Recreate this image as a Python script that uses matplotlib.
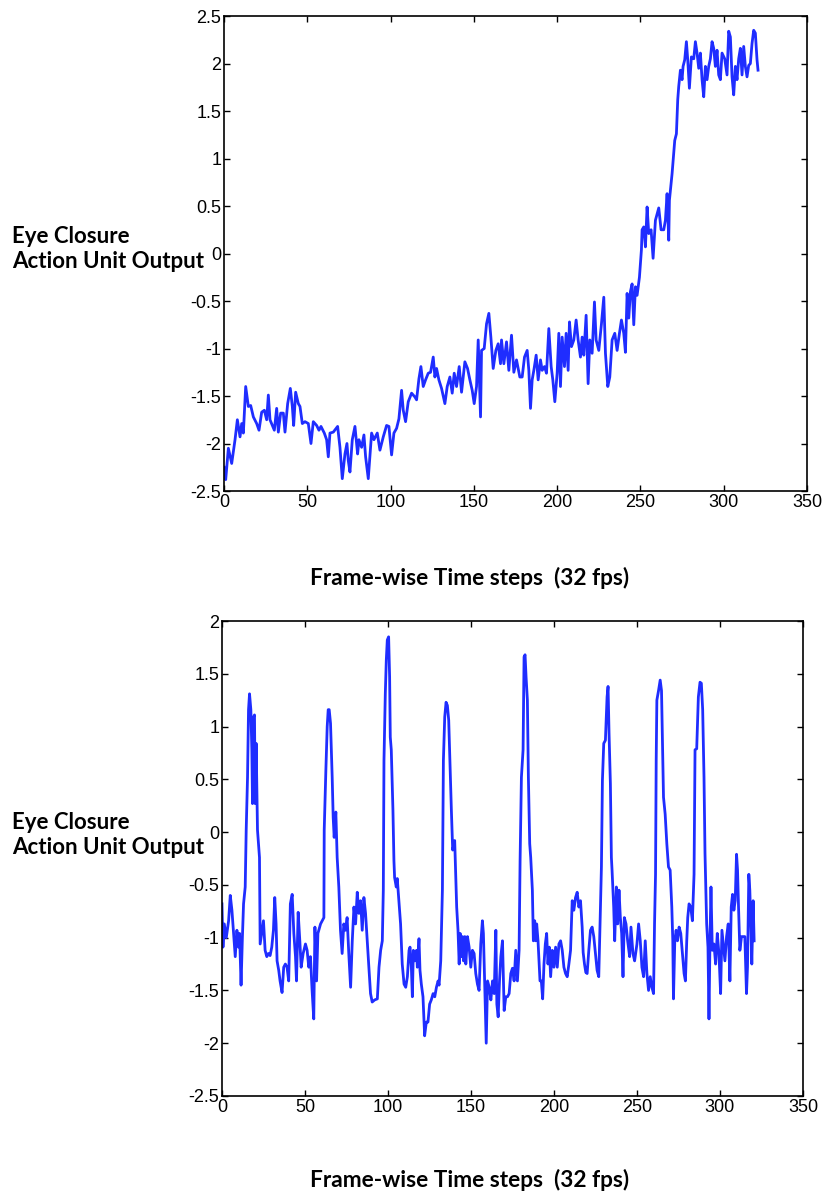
import matplotlib
matplotlib.use('Agg')
import matplotlib.pyplot as plt

# values (frame index, action unit output)
top_x = [0, 1, 2.6, 4.6, 6.6, 8, 9.6, 10.6, 11.6, 13, 14.6, 16, 17.6, 19.6, 21, 22.6, 24.2, 25.6, 26.6, 27.6,
         29, 30.2, 31.6, 32.6, 34, 35.6, 36.6, 38.2, 39.8, 41, 41.8, 43, 44.6, 45.6, 47, 48.6, 50.6, 52.2, 53.6, 55.6,
         57, 58.2, 60.2, 61.6, 62.6, 63.6, 65.6, 68.2, 69.6, 71, 72.6, 73.8, 74.6, 75.6, 77, 78.6, 80.2, 81, 82.6, 84,
         85, 86.6, 88.6, 90, 92, 93.6, 95.6, 97.6, 99, 100.6, 102, 103.6, 105, 106.6, 107.6, 109, 110.6, 112.6, 114.6, 115.6,
         117, 118.2, 119.6, 121, 122.6, 124, 125.6, 126.6, 127.6, 129, 130.6, 132.6, 134, 135.6, 137, 138.2, 139.6, 141.2, 142.6, 144.6,
         146.2, 147.6, 149, 150.2, 151.6, 152.6, 154, 154.6, 156.2, 157.6, 159, 160.2, 161.6, 163.2, 164.6, 166, 166.6, 168, 169.6, 171,
         172.6, 174, 175.6, 177.6, 179, 180.4, 182, 183, 184, 185, 186, 187.4, 188.6, 190, 191, 192.4, 193.6, 195, 196.4, 197.4,
         198.6, 200, 201, 202, 203, 204.4, 205.4, 206.6, 207.4, 208.6, 210, 211.4, 212.6, 214, 215, 216, 217.4, 218.6, 219.6, 221,
         222.4, 223.4, 225, 226.6, 228, 229, 230.4, 231.6, 233, 234.6, 236, 237.4, 238.6, 240, 241, 242, 243, 244, 245, 246,
         247, 248, 249.4, 250.6, 251, 252, 253, 254, 255, 256.4, 257.6, 259, 261, 262.4, 264, 265, 266, 267, 267.4, 269,
         270.6, 271.6, 272.4, 273, 274, 275, 275.6, 276.6, 277.6, 278.4, 279.4, 280.6, 282, 283, 284, 285, 286, 287, 288, 289,
         290, 291, 292, 293, 294, 295, 296, 297, 298, 299, 300.6, 302, 303, 304, 305, 306, 307, 308, 309, 310,
         311, 312, 313, 314, 315, 316, 317, 318, 319, 320, 320.6]
top_y = [-2.25, -2.38, -2.05, -2.21, -1.96, -1.75, -1.93, -1.79, -1.89, -1.40, -1.61, -1.60, -1.72, -1.79, -1.86, -1.67, -1.65, -1.75, -1.49, -1.75,
         -1.81, -1.86, -1.63, -1.88, -1.68, -1.68, -1.88, -1.58, -1.42, -1.61, -1.81, -1.46, -1.58, -1.61, -1.79, -1.77, -1.79, -2.00, -1.77, -1.81,
         -1.86, -1.82, -1.89, -1.96, -2.14, -1.89, -1.88, -1.82, -2.04, -2.37, -2.11, -2.00, -2.18, -2.30, -1.96, -1.82, -2.11, -1.96, -2.04, -1.91,
         -2.14, -2.37, -1.89, -1.96, -1.89, -2.07, -1.93, -1.81, -1.82, -2.12, -1.89, -1.84, -1.74, -1.44, -1.65, -1.77, -1.56, -1.47, -1.51, -1.54,
         -1.32, -1.19, -1.40, -1.33, -1.26, -1.25, -1.09, -1.30, -1.21, -1.33, -1.42, -1.58, -1.40, -1.30, -1.47, -1.26, -1.40, -1.19, -1.46, -1.14,
         -1.21, -1.33, -1.44, -1.58, -1.40, -0.91, -1.72, -1.02, -1.00, -0.74, -0.63, -0.88, -1.21, -1.02, -0.95, -1.16, -0.91, -1.16, -0.93, -1.23,
         -0.86, -1.25, -1.12, -1.30, -1.30, -1.09, -1.02, -1.23, -1.63, -1.33, -1.23, -1.07, -1.33, -1.12, -1.23, -1.19, -1.26, -0.79, -1.19, -1.33,
         -1.56, -1.26, -0.84, -1.40, -0.88, -1.19, -0.84, -1.23, -0.72, -0.98, -0.91, -0.70, -0.91, -1.09, -0.88, -1.07, -0.65, -1.37, -0.91, -1.05,
         -0.51, -0.91, -1.02, -0.74, -0.46, -1.05, -1.40, -1.30, -0.91, -0.84, -1.02, -0.84, -0.70, -0.84, -1.04, -0.42, -0.68, -0.40, -0.32, -0.75,
         -0.35, -0.44, -0.25, 0.04, 0.25, 0.28, 0.07, 0.49, 0.21, 0.25, -0.05, 0.35, 0.48, 0.25, 0.25, 0.35, 0.63, 0.14, 0.56, 0.84,
         1.19, 1.26, 1.62, 1.76, 1.93, 1.83, 1.97, 2.04, 2.23, 2.04, 1.74, 2.07, 2.05, 2.23, 2.11, 1.95, 2.11, 1.83, 1.65, 1.97,
         1.83, 1.97, 2.05, 2.23, 2.16, 1.97, 2.14, 1.88, 1.83, 2.11, 2.05, 1.88, 2.34, 2.28, 1.86, 1.67, 1.97, 1.83, 2.05, 2.16,
         1.88, 2.18, 1.97, 1.86, 1.98, 2.00, 2.21, 2.35, 2.32, 2.04, 1.93]

bot_x = [0, 0.6, 1.4, 2.6, 4, 5, 6, 7, 8, 9, 10, 10.6, 11.5, 12.3, 13, 14, 14.6, 15.4, 16, 16.6,
         17.4, 18, 18.4, 19, 19.6, 20, 20.6, 21.4, 22.6, 23, 25, 26, 27, 28, 29, 30, 31, 31.8, 32.6, 33.2,
         34.2, 35, 36.2, 37.2, 38.2, 39.2, 40.2, 41.2, 42.3, 43.3, 44.3, 44.9, 45.9, 46.9, 47.7, 48.9, 50.3, 51.3, 52.3, 53.3,
         54.3, 55.3, 56, 57, 57.8, 59.4, 60.4, 61.4, 61.6, 62.6, 63.4, 64, 64.6, 65.4, 66.4, 67, 67.6, 68.6, 69.4, 70.4,
         71.4, 72.4, 73.4, 74.4, 75.4, 76.4, 77.5, 78.5, 79.5, 80.5, 81.5, 82.5, 83.5, 84.5, 85.5, 86.5, 87.5, 88.5, 89.5, 90.5,
         92, 93.6, 94.6, 95.6, 96.6, 97.2, 97.6, 98.4, 99, 99.6, 100.4, 101, 101.4, 102, 103, 103.6, 104, 105, 105.6, 106.6,
         107.6, 108.6, 109.7, 110.7, 111.7, 112.7, 113.3, 114.1, 114.7, 115.3, 116.2, 117.2, 117.7, 118.7, 119.3, 120.1, 121.1, 122.1, 123.1, 124.1,
         125.1, 126.1, 127.2, 128.2, 129.2, 130.2, 130.8, 131.8, 132.8, 133.4, 134.2, 135, 135.8, 136.6, 137.4, 138.2, 139, 140.2, 141.4, 142.2,
         142.9, 143.5, 144.3, 144.9, 145.5, 146.3, 146.9, 147.9, 148.9, 149.9, 150.9, 151.9, 152.9, 153.9, 154.9, 155.9, 156.9, 157.5, 158.4, 159.2,
         160, 161, 162, 163, 164, 165, 165.6, 166.4, 167.2, 168, 169, 170, 171, 172, 173, 174, 175, 176, 177, 178,
         179, 179.6, 180.4, 181.4, 182, 182.6, 183.2, 184, 184.6, 185.4, 186, 187, 187.6, 188.4, 189, 189.6, 190.4, 191.6, 192.4, 193.2,
         194, 194.8, 195.6, 196.4, 197.2, 198, 199, 200, 201, 202, 203, 204, 205, 206, 207, 208, 209, 210, 211, 212,
         213, 214, 215, 216, 217, 217.6, 218.4, 219.2, 220, 221, 222, 223, 224, 225, 226, 227, 228, 228.6, 229.2, 230,
         231, 232, 232.6, 233.2, 234, 234.6, 235, 236, 236.6, 237.6, 238.4, 239.2, 240, 240.8, 241.6, 242.4, 243.4, 244.4, 245.6, 246.4,
         247.6, 248.6, 250, 251, 252, 253, 254, 255, 256, 257, 258, 259, 260, 260.6, 261.2, 261.6, 262, 263, 264, 264.8,
         265.4, 266, 267, 268, 269, 270, 271, 271.6, 272, 272.8, 273.6, 274.4, 275.4, 276.4, 277.4, 278.4, 279.2, 280, 280.6, 281.4,
         282.4, 283.4, 284.4, 285, 286, 287, 288, 288.8, 289.6, 290.4, 291, 292, 292.8, 293.4, 294, 294.6, 295.4, 296.4, 297.4, 298.4,
         299.4, 300.4, 301.2, 302, 303, 304, 305, 306, 306.8, 307.6, 308.4, 309.2, 310, 310.6, 311.2, 312, 313, 314, 315, 316,
         316.6, 317.4, 318, 318.6, 319.2, 320, 320.6]
bot_y = [-0.68, -1.09, -0.87, -1.00, -0.84, -0.60, -0.74, -0.96, -1.18, -0.93, -1.09, -0.96, -1.45, -1.00, -0.68, -0.52, 0.02, 0.52, 1.16, 1.31,
         1.16, 0.78, 0.27, 1.09, 1.11, 0.27, 0.84, 0.02, -0.24, -1.06, -0.84, -1.12, -1.18, -1.15, -1.17, -1.09, -0.93, -0.62, -0.87, -1.22,
         -1.31, -1.41, -1.52, -1.28, -1.25, -1.28, -1.41, -0.68, -0.59, -0.96, -1.18, -1.41, -0.76, -1.03, -1.28, -1.15, -1.06, -1.12, -1.28, -1.18,
         -1.50, -1.77, -0.90, -1.41, -0.96, -0.87, -0.84, -0.81, 0.02, 0.59, 1.00, 1.16, 1.16, 1.03, 0.52, 0.14, -0.05, 0.19, -0.24, -0.52,
         -0.93, -1.15, -0.87, -0.93, -0.81, -1.15, -1.47, -1.03, -0.71, -0.87, -0.57, -0.77, -0.65, -0.93, -0.62, -0.77, -1.03, -1.28, -1.53, -1.61,
         -1.59, -1.58, -1.28, -1.12, -1.03, -0.55, 0.68, 1.31, 1.63, 1.82, 1.85, 1.47, 0.90, 0.78, 0.21, -0.27, -0.43, -0.52, -0.44, -0.65,
         -0.87, -1.25, -1.44, -1.47, -1.37, -1.12, -1.09, -1.28, -1.56, -1.12, -1.22, -1.12, -1.28, -1.01, -1.31, -1.44, -1.56, -1.93, -1.80, -1.80,
         -1.63, -1.59, -1.53, -1.56, -1.47, -1.41, -1.45, -1.22, -0.55, 0.68, 1.09, 1.23, 1.20, 1.06, 0.62, 0.21, -0.17, -0.08, -0.71, -0.93,
         -1.25, -0.96, -1.18, -0.99, -1.22, -0.99, -1.25, -0.99, -1.09, -1.28, -1.12, -1.15, -1.34, -1.44, -1.50, -1.06, -0.84, -0.96, -1.50, -2.00,
         -1.41, -1.47, -1.59, -1.41, -1.53, -0.93, -1.63, -1.75, -1.41, -1.18, -1.03, -1.69, -1.56, -1.56, -1.53, -1.34, -1.29, -1.41, -1.12, -1.41,
         -1.12, -0.27, 0.52, 0.78, 1.66, 1.68, 1.47, 1.25, 0.52, -0.11, -0.24, -0.55, -1.03, -0.84, -1.03, -0.87, -1.03, -1.41, -1.41, -1.58,
         -1.25, -1.06, -0.96, -1.25, -1.09, -1.37, -1.12, -1.28, -1.09, -1.28, -1.06, -1.03, -1.12, -1.28, -1.34, -1.37, -1.25, -1.12, -0.65, -0.74,
         -0.62, -0.57, -0.71, -0.65, -0.90, -1.14, -1.25, -1.33, -1.34, -1.12, -0.93, -0.90, -0.99, -1.15, -1.31, -1.37, -0.71, -0.33, 0.49, 0.84,
         0.87, 1.28, 1.38, 0.93, 0.46, -0.24, -0.36, -0.71, -1.03, -0.52, -0.87, -0.55, -0.81, -0.96, -1.37, -0.81, -0.87, -1.03, -1.18, -0.90,
         -1.15, -1.22, -1.06, -0.87, -1.03, -1.28, -1.37, -1.03, -1.34, -1.50, -1.37, -1.47, -1.53, -0.87, -0.40, 0.68, 1.25, 1.34, 1.44, 1.34,
         0.84, 0.33, 0.17, -0.11, -0.33, -0.36, -0.71, -1.03, -1.58, -1.03, -0.93, -1.03, -0.90, -0.96, -1.15, -1.34, -1.41, -1.03, -0.81, -0.68,
         -0.71, -0.84, -0.40, 0.78, 0.79, 1.28, 1.42, 1.41, 1.16, 0.52, -0.20, -0.87, -1.09, -1.77, -1.03, -0.52, -1.12, -1.06, -1.25, -0.96,
         -1.15, -1.53, -0.93, -1.06, -1.22, -0.99, -0.87, -1.41, -0.71, -0.59, -0.74, -0.65, -0.21, -0.36, -0.71, -1.12, -0.99, -0.99, -0.99, -1.53,
         -1.28, -0.40, -0.55, -0.87, -1.25, -0.65, -1.03]

x_ticks = [0, 50, 100, 150, 200, 250, 300, 350]
top_yticks = [-2.5, -2, -1.5, -1, -0.5, 0, 0.5, 1, 1.5, 2, 2.5]
bot_yticks = [-2.5, -2, -1.5, -1, -0.5, 0, 0.5, 1, 1.5, 2]

ylabel_text = 'Eye Closure\nAction Unit Output'
xlabel_text = 'Frame-wise Time steps  (32 fps)'


def fmt(v):
    return '%g' % v


fig = plt.figure(figsize=(8.27, 11.97), dpi=100)

panels = [
    ([0.2709, 0.5898, 0.7049, 0.3968], top_x, top_y, (-2.5, 2.5), top_yticks),
    ([0.2684, 0.0844, 0.7025, 0.3968], bot_x, bot_y, (-2.5, 2), bot_yticks),
]

for rect, xs, ys, ylim, yt in panels:
    ax = fig.add_axes(rect)
    ax.plot(xs, ys, color='#1f2dff', lw=2.0)
    ax.set_xlim(0, 350)
    ax.set_ylim(*ylim)
    ax.set_xticks(x_ticks)
    ax.set_xticklabels([fmt(v) for v in x_ticks])
    ax.set_yticks(yt)
    ax.set_yticklabels([fmt(v) for v in yt])
    ax.tick_params(direction='in', length=4, width=1, top=True, right=True,
                   labelsize=13, pad=2)
    for lab in ax.get_xticklabels() + ax.get_yticklabels():
        lab.set_fontfamily('Liberation Sans')
    for sp in ax.spines.values():
        sp.set_linewidth(1.2)

# axis captions, placed like the reference
fig.text(0.0145, 1 - 249 / 1197, ylabel_text, fontsize=16, fontweight='bold',
         family='Lato', va='center', ha='left', linespacing=1.25)
fig.text(0.0145, 1 - 835 / 1197, ylabel_text, fontsize=16, fontweight='bold',
         family='Lato', va='center', ha='left', linespacing=1.25)
fig.text(470 / 827, 1 - 578 / 1197, xlabel_text, fontsize=16.3, fontweight='bold',
         family='Lato', va='center', ha='center')
fig.text(470 / 827, 1 - 1180 / 1197, xlabel_text, fontsize=16.3, fontweight='bold',
         family='Lato', va='center', ha='center')

fig.savefig('out.png', dpi=100)
